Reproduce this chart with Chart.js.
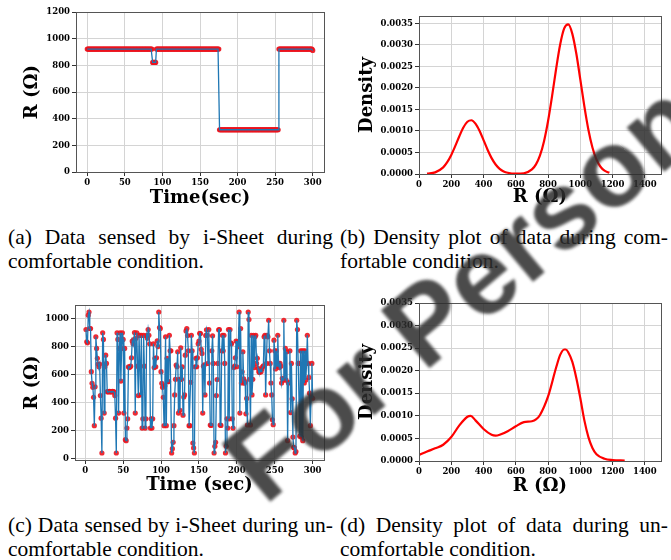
<!DOCTYPE html>
<html>
<head>
<meta charset="utf-8">
<script src="https://cdn.jsdelivr.net/npm/chart.js@4.4.1/dist/chart.umd.min.js"></script>
<style>
  body { margin: 0; width: 671px; height: 560px; background: #fff; position: relative; overflow: hidden; }
  canvas { position: absolute; }
  .cap { position: absolute; font-family: "Liberation Serif", "Times New Roman", serif; font-size: 21.5px; line-height: 24px; color: #000; }
  .cap .j { text-align: justify; text-align-last: justify; }
  #wm { position: absolute; left: 463px; top: 291px; transform: translate(-50%, -50%) rotate(-40deg);
        font-family: "Liberation Sans", Arial, sans-serif; font-weight: bold; font-size: 110px; line-height: 1; white-space: nowrap;
        color: rgba(45, 45, 45, 0.86); filter: blur(1.7px); pointer-events: none; }
</style>
</head>
<body>
<canvas id="chartA" width="335" height="215" style="left:0;top:0"></canvas>
<canvas id="chartB" width="336" height="215" style="left:335px;top:0"></canvas>
<canvas id="chartC" width="335" height="215" style="left:0;top:290px"></canvas>
<canvas id="chartD" width="336" height="215" style="left:335px;top:290px"></canvas>

<div class="cap" style="left:8px;top:225px;width:325px">
  <div class="j">(a) Data sensed by i-Sheet during</div><div>comfortable condition.</div>
</div>
<div class="cap" style="left:340px;top:225px;width:328px">
  <div class="j">(b) Density plot of data during com-</div><div>fortable condition.</div>
</div>
<div class="cap" style="left:8px;top:513px;width:325px">
  <div class="j">(c) Data sensed by i-Sheet during un-</div><div>comfortable condition.</div>
</div>
<div class="cap" style="left:340px;top:513px;width:328px">
  <div class="j">(d) Density plot of data during un-</div><div>comfortable condition.</div>
</div>
<div id="wm">For Person</div>

<script>
// (a) comfortable condition: [resistance, number of 1-second samples], starting at t = 0
const runsA = [[922, 87], [822, 5], [922, 84], [317, 79], [922, 45], [912, 1]];
const timeTicksA = [0, 50, 100, 150, 200, 250, 300];
const resTicksA = [0, 200, 400, 600, 800, 1000, 1200];

// (c) uncomfortable condition, t = 1..300
const valuesC = [
  922, 834, 827, 1024, 1047, 929, 929, 621, 538, 509,
  438, 235, 513, 870, 787, 716, 675, 656, 675, 450,
  289, 40, 898, 851, 325, 656, 739, 680, 479, 476,
  478, 480, 477, 479, 476, 480, 478, 476, 450, 289,
  40, 898, 851, 325, 787, 898, 554, 787, 898, 851,
  325, 787, 135, 128, 218, 284, 656, 650, 655, 660,
  720, 840, 820, 850, 900, 325, 860, 898, 660, 450,
  880, 880, 455, 880, 218, 284, 880, 660, 218, 284,
  880, 860, 922, 881, 820, 218, 284, 218, 284, 820,
  650, 716, 656, 720, 841, 800, 1047, 936, 930, 621,
  538, 509, 438, 235, 520, 870, 235, 716, 550, 550,
  881, 770, 770, 40, 71, 116, 235, 455, 566, 668,
  656, 763, 325, 566, 345, 791, 566, 656, 310, 440,
  455, 739, 912, 929, 879, 770, 235, 235, 545, 881,
  770, 111, 76, 40, 656, 716, 656, 720, 820, 840,
  895, 893, 780, 751, 325, 660, 670, 455, 880, 920,
  880, 680, 922, 540, 240, 237, 770, 877, 680, 40,
  88, 116, 450, 565, 680, 920, 922, 240, 237, 770,
  881, 770, 881, 680, 40, 88, 284, 218, 922, 284,
  922, 827, 820, 284, 218, 650, 660, 720, 840, 656,
  834, 800, 1047, 325, 929, 540, 620, 763, 569, 538,
  550, 320, 430, 240, 1047, 993, 566, 240, 881, 455,
  566, 881, 650, 870, 881, 680, 716, 645, 620, 615,
  633, 621, 640, 656, 663, 870, 881, 455, 680, 881,
  870, 988, 770, 680, 540, 455, 277, 242, 846, 770,
  640, 770, 660, 881, 680, 650, 680, 660, 540, 573,
  560, 988, 570, 787, 560, 763, 128, 540, 543, 770,
  329, 680, 427, 154, 80, 76, 40, 50, 988, 922,
  680, 680, 160, 770, 154, 770, 128, 770, 540, 770,
  561, 680, 881, 680, 580, 467, 235, 440, 680, 431
];
const timeTicksC = [0, 50, 100, 150, 200, 250, 300];
const resTicksC = [0, 200, 400, 600, 800, 1000];

// (b) density, comfortable
const densXB = [50, 100, 150, 175, 200, 225, 250, 275, 300, 325, 350, 375, 400, 425, 450, 475, 500, 525, 550, 600,
  650, 700, 725, 750, 775, 800, 825, 850, 875, 900, 925, 950, 975, 1000, 1025, 1050, 1075, 1100, 1125, 1150, 1180];
const densYB = [0.000007, 0.000038, 0.000155, 0.000274, 0.000442, 0.000652, 0.000878, 0.00108, 0.001215, 0.001249,
  0.001171, 0.001005, 0.000788, 0.000564, 0.000369, 0.000221, 0.000121, 0.00006, 0.000028, 0.0000065,
  0.000018, 0.000106, 0.000224, 0.000433, 0.000763, 0.001231, 0.001814, 0.002444, 0.003007, 0.003381,
  0.003474, 0.003261, 0.002798, 0.002192, 0.001571, 0.001028, 0.000615, 0.000336, 0.000168, 0.000077, 0.000027];

// (d) density, uncomfortable
const densXD = [0, 50, 100, 150, 200, 250, 300, 320, 350, 400, 450, 475, 500, 550, 600, 650, 700, 725, 750, 800,
  850, 875, 900, 910, 925, 950, 975, 1000, 1025, 1050, 1075, 1100, 1150, 1200, 1275];
const densYD = [0.000135, 0.00021, 0.00028, 0.00036, 0.00053, 0.00079, 0.00098, 0.001, 0.0009, 0.00071,
  0.00058, 0.00056, 0.00058, 0.00066, 0.00077, 0.00086, 0.00088, 0.00092, 0.00102, 0.00143,
  0.00207, 0.00235, 0.00247, 0.00247, 0.00241, 0.0022, 0.00184, 0.00139, 0.0009, 0.00053,
  0.00029, 0.00015, 0.00005, 0.00002, 0.00001];
const resTicksDens = [0, 200, 400, 600, 800, 1000, 1200, 1400];
const densTicks = [0, 0.0005, 0.001, 0.0015, 0.002, 0.0025, 0.003, 0.0035];

const tickFont = { family: 'DejaVu Serif', weight: 'bold', size: 8.5 };
const titleFont = { family: 'DejaVu Serif', weight: 'bold', size: 18 };

// frame around the plot area like matplotlib spines
const boxPlugin = {
  id: 'box',
  afterDraw(chart) {
    const a = chart.chartArea, ctx = chart.ctx;
    ctx.save();
    ctx.strokeStyle = '#555';
    ctx.lineWidth = 1;
    ctx.strokeRect(Math.round(a.left) + 0.5, Math.round(a.top) + 0.5, Math.round(a.right - a.left), Math.round(a.bottom - a.top));
    ctx.restore();
  }
};

function axis(opts) {
  return {
    type: 'linear',
    min: opts.min, max: opts.max,
    afterBuildTicks: s => { s.ticks = opts.ticks.map(v => ({ value: v })); },
    afterFit: s => { if (opts.w) s.width = opts.w; if (opts.h) s.height = opts.h; },
    grid: { color: '#d4d4d4', lineWidth: 1, tickColor: '#333', tickLength: 4 },
    border: { display: false },
    ticks: { font: tickFont, color: '#000', padding: 2, maxRotation: 0, autoSkip: false,
             callback: opts.fmt || (v => v) },
    title: { display: true, text: opts.title, font: titleFont, color: '#000', padding: opts.tpad }
  };
}

function baseOptions(x, y, pad) {
  return {
    responsive: false, animation: false, devicePixelRatio: 1,
    layout: { padding: pad },
    plugins: { legend: { display: false }, tooltip: { enabled: false } },
    scales: { x: x, y: y }
  };
}

function timeSeries(id, xs, ys, x, y, pad) {
  const pts = xs.map((t, i) => ({ x: t, y: ys[i] }));
  new Chart(document.getElementById(id), {
    type: 'line',
    data: { datasets: [
      { data: pts, borderColor: '#1f77b4', borderWidth: 1.3, pointRadius: 0, order: 0 },
      { data: pts, showLine: false, pointRadius: 2.6, pointBackgroundColor: 'rgba(235,20,30,0.9)', pointBorderWidth: 0, order: 1 }
    ] },
    options: baseOptions(x, y, pad),
    plugins: [boxPlugin]
  });
}

function density(id, xs, ys, x, y, pad) {
  new Chart(document.getElementById(id), {
    type: 'line',
    data: { datasets: [
      { data: xs.map((v, i) => ({ x: v, y: ys[i] })), borderColor: '#ff0000', borderWidth: 2.2,
        pointRadius: 0, cubicInterpolationMode: 'monotone' }
    ] },
    options: baseOptions(x, y, pad),
    plugins: [boxPlugin]
  });
}

// expand the run list of (a)
const timeA = [], valuesA = [];
runsA.forEach(([v, n]) => { for (let k = 0; k < n; k++) { timeA.push(timeA.length); valuesA.push(v); } });
const timeC = valuesC.map((v, i) => i + 1);

timeSeries('chartA', timeA, valuesA,
  axis({ min: -15, max: 315, ticks: timeTicksA, title: 'Time(sec)', h: 43, tpad: { top: 0, bottom: 6 } }),
  axis({ min: 0, max: 1200, ticks: resTicksA, title: 'R (\u03a9)', w: 76, tpad: { top: 22, bottom: 0 } }),
  { top: 12, right: 11, left: 0, bottom: 0 });

density('chartB', densXB, densYB,
  axis({ min: 0, max: 1500, ticks: resTicksDens, title: 'R (\u03a9)', h: 41, tpad: { top: 0, bottom: 7 } }),
  axis({ min: 0, max: 0.00367, ticks: densTicks, title: 'Density', w: 84, tpad: { top: 22, bottom: 0 },
         fmt: v => v.toFixed(4) }),
  { top: 16, right: 10, left: 0, bottom: 0 });

timeSeries('chartC', timeC, valuesC,
  axis({ min: -13.5, max: 315, ticks: timeTicksC, title: 'Time (sec)', h: 45, tpad: { top: 0, bottom: 9 } }),
  axis({ min: -10, max: 1097, ticks: resTicksC, title: 'R (\u03a9)', w: 75, tpad: { top: 22, bottom: 0 } }),
  { top: 15, right: 11, left: 0, bottom: 0 });

density('chartD', densXD, densYD,
  axis({ min: 0, max: 1500, ticks: resTicksDens, title: 'R (\u03a9)', h: 44, tpad: { top: 0, bottom: 8 } }),
  axis({ min: 0, max: 0.0035, ticks: densTicks, title: 'Density', w: 84, tpad: { top: 22, bottom: 0 },
         fmt: v => v.toFixed(4) }),
  { top: 13, right: 10, left: 0, bottom: 0 });
</script>
</body>
</html>
